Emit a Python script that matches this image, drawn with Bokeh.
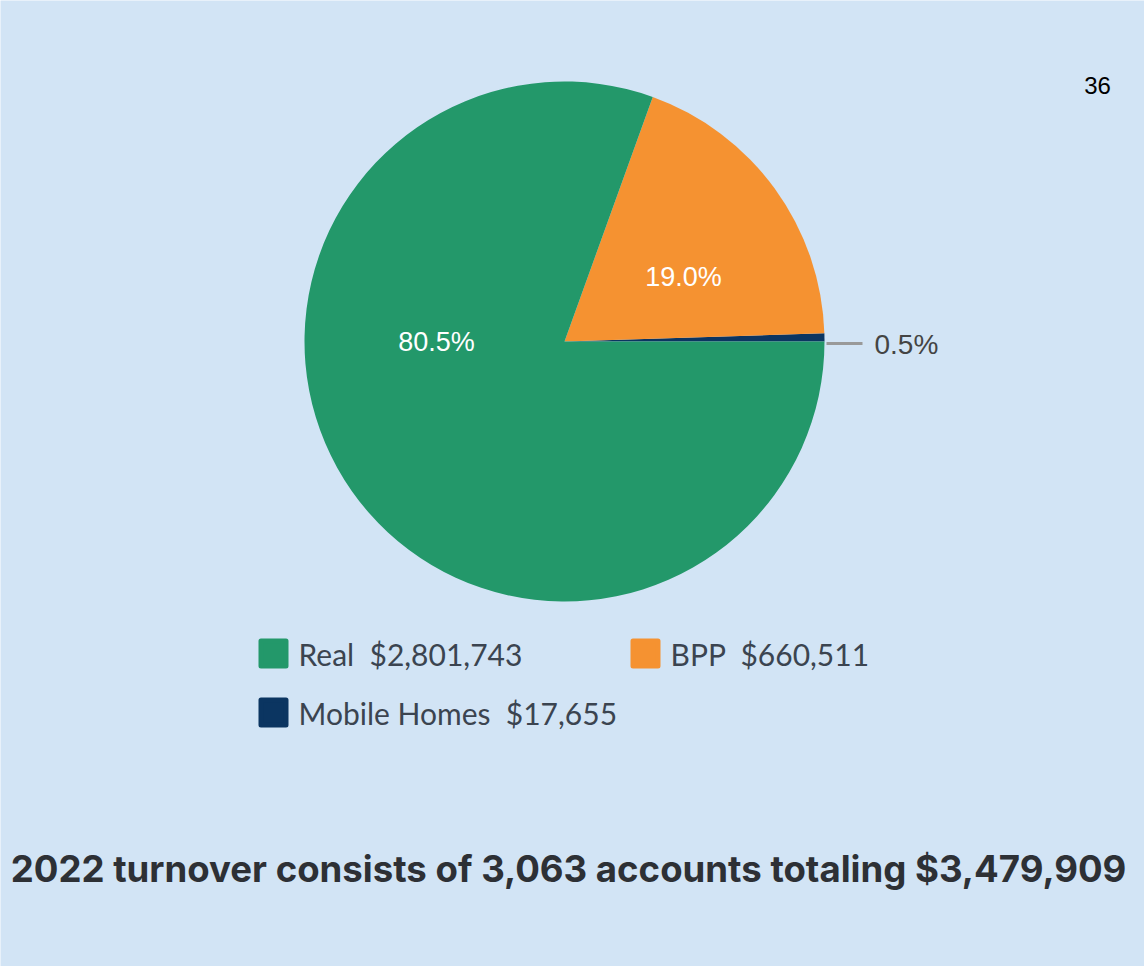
import math
import re
from bokeh.plotting import figure
from bokeh.models import Range1d
from bokeh.embed import file_html
from bokeh.resources import INLINE
from bokeh.core.properties import value

# ---- data ----
categories = ["Real", "BPP", "Mobile Homes"]
amounts = [2801743, 660511, 17655]
pct_labels = ["80.5%", "19.0%", "0.5%"]
legend_labels = ["Real\u00a0\u00a0$2,801,743", "BPP\u00a0\u00a0$660,511", "Mobile Homes\u00a0\u00a0$17,655"]
colors = ["#23986a", "#f59231", "#0b3561"]
title_text = "2022 turnover consists of 3,063 accounts totaling $3,479,909"
page_number = "36"

W, H = 1144, 966
BG = "#d2e4f5"

p = figure(width=W, height=H, output_backend="svg", toolbar_location=None,
           x_range=Range1d(0, W), y_range=Range1d(0, H), min_border=0,
           match_aspect=False)
p.axis.visible = False
p.grid.visible = False
p.outline_line_color = None
p.background_fill_color = BG
p.border_fill_color = BG

def Y(ypx):
    return H - ypx

cx, cy, r = 564, Y(341), 260

# pie slices: counter-clockwise starting at 3 o'clock, smallest first
order = [2, 1, 0]
total = sum(amounts)
start = 0.0
for i in order:
    ang = amounts[i] / total * 2 * math.pi
    p.wedge(x=[cx], y=[cy], radius=r, start_angle=[start], end_angle=[start + ang],
            fill_color=colors[i], line_color=None)
    start += ang

# slice labels
lab_font = value("Liberation Sans")
p.text(x=[436], y=[Y(341)], text=[pct_labels[0]], text_color="white",
       text_font=lab_font, text_font_size="27px", text_align="center", text_baseline="middle")
p.text(x=[683], y=[Y(276)], text=[pct_labels[1]], text_color="white",
       text_font=lab_font, text_font_size="27px", text_align="center", text_baseline="middle")
p.segment(x0=[826], y0=[Y(343)], x1=[862], y1=[Y(343)], line_color="#999999", line_width=3)
p.text(x=[874], y=[Y(344)], text=[pct_labels[2]], text_color="#444444",
       text_font=lab_font, text_font_size="28px", text_align="left", text_baseline="middle")

# legend
sw_x = [273, 645, 273]
sw_y = [Y(653), Y(653), Y(712)]
p.scatter(x=sw_x, y=sw_y, marker="square", size=25, fill_color=colors,
          line_color=colors, line_width=5, line_join="round")
p.text(x=[x + 25 for x in sw_x], y=sw_y, text=legend_labels, text_color="#3b4450",
       text_font=value("Lato"), text_font_size="30px", text_align="left",
       text_baseline="middle")

# title
p.text(x=[568], y=[Y(868)], text=[title_text], text_color="#2d3035",
       text_font=value("Inter"), text_font_style="bold", text_font_size="36.6px",
       text_align="center", text_baseline="middle")

# page number
p.text(x=[1097], y=[Y(85)], text=[page_number], text_color="#000000",
       text_font=value("Liberation Sans"), text_font_size="24px",
       text_align="center", text_baseline="middle")

html = file_html(p, INLINE)
html = re.sub(r"<body[^>]*>", '<body style="margin:0;background:%s;">' % BG, html, count=1)
open("out.html", "w").write(html)
